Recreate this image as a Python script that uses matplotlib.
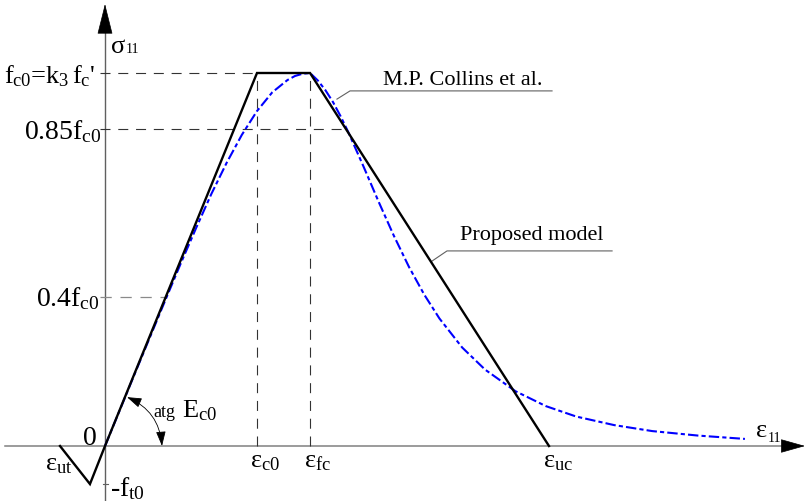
import matplotlib
matplotlib.use("Agg")
import matplotlib.pyplot as plt

# strains normalised by eps_c0, stresses normalised by f_c0
EPS_UT = -0.296
EPS_T0 = -0.099
EPS_C0 = 1.0
EPS_FC = 1.349
EPS_UC = 2.921
F_T0 = -0.102
F_C0 = 1.0
LEVELS = [1.0, 0.85, 0.4]

# proposed model (black polyline)
model_eps = [EPS_UT, EPS_T0, 0.0, EPS_C0, EPS_FC, EPS_UC]
model_sig = [0.0, F_T0, 0.0, F_C0, F_C0, 0.0]

# M.P. Collins et al. curve (blue dashed)
collins_eps = [0.0, 0.2, 0.4, 0.5, 0.6, 0.7, 0.8, 0.9, 1.0, 1.1, 1.2, 1.25, 1.3, 1.349,
               1.4, 1.45, 1.5, 1.55, 1.6, 1.7, 1.8, 1.9, 2.0, 2.1, 2.2, 2.35, 2.5,
               2.7, 2.9, 3.1, 3.35, 3.6, 3.9, 4.21]
collins_sig = [0.0, 0.198, 0.394, 0.491, 0.585, 0.676, 0.759, 0.834, 0.898, 0.948, 0.981,
               0.992, 0.998, 1.0, 0.980, 0.954, 0.922, 0.884, 0.842, 0.750, 0.655,
               0.564, 0.480, 0.406, 0.342, 0.264, 0.205, 0.147, 0.107, 0.079, 0.056,
               0.040, 0.028, 0.019]

plt.rcParams['font.family'] = ['Liberation Serif', 'DejaVu Serif']
plt.rcParams['mathtext.fontset'] = 'custom'
plt.rcParams['mathtext.rm'] = 'Liberation Serif'
plt.rcParams['mathtext.it'] = 'Liberation Serif'
plt.rcParams['mathtext.bf'] = 'Liberation Serif:bold'

fig = plt.figure(figsize=(8.05, 5.02), dpi=100)
ax = fig.add_axes([0, 0, 1, 1])
ax.set_xlim(-0.6908, 4.6053)
ax.set_ylim(-0.14745, 1.19839)
ax.axis('off')

# axes with arrow heads
x0, x1 = -0.658, 4.605
y0, y1 = -0.147, 1.185
ax.plot([x0, x1 - 0.1], [0, 0], color='#808080', lw=1.1, zorder=1)
ax.plot([0, 0], [y0, y1 - 0.05], color='#606060', lw=1.0, zorder=1)
ax.annotate('', xy=(x1, 0), xytext=(x1 - 0.14, 0),
            arrowprops=dict(arrowstyle='-|>,head_length=1.6,head_width=0.45',
                            mutation_scale=10, fc='black', ec='black', lw=0.5,
                            shrinkA=0, shrinkB=0))
ax.annotate('', xy=(0, y1), xytext=(0, y1 - 0.075),
            arrowprops=dict(arrowstyle='-|>,head_length=2.0,head_width=0.5',
                            mutation_scale=10, fc='black', ec='black', lw=0.5,
                            shrinkA=0, shrinkB=0))

# guide lines
dash = (0, (9, 7))
ax.plot([-0.03, EPS_C0], [LEVELS[0]] * 2, color='#333333', lw=0.8, ls=dash)
x85 = EPS_FC + (1 - LEVELS[1]) * (EPS_UC - EPS_FC)
ax.plot([-0.03, x85], [LEVELS[1]] * 2, color='#333333', lw=0.8, ls=dash)
ax.plot([-0.03, LEVELS[2]], [LEVELS[2]] * 2, color='#8a8a8a', lw=0.9, ls=dash)
ax.plot([EPS_C0, EPS_C0], [0, F_C0], color='#333333', lw=0.8, ls=dash)
ax.plot([EPS_FC, EPS_FC], [0, F_C0], color='#333333', lw=0.8, ls=dash)
ax.plot([-0.015, 0.02], [F_T0, F_T0], color='#606060', lw=0.8)

# curves
ax.plot(collins_eps, collins_sig, color='#0000ff', lw=1.5,
        ls=(0, (5, 1.5, 2, 1.5)), zorder=3)
ax.plot(model_eps, model_sig, color='black', lw=1.7, zorder=4,
        solid_joinstyle='miter')

# leader lines
ax.plot([1.526, 1.612, 2.941], [0.930, 0.952, 0.952], color='#606060', lw=0.8)
ax.plot([2.145, 2.25, 3.336], [0.494, 0.523, 0.523], color='#606060', lw=0.8)
ax.text(1.829, 0.971, 'M.P. Collins et al.', fontsize=16, va='baseline')
ax.text(2.336, 0.555, 'Proposed model', fontsize=16, va='baseline')

# angle arc
ax.annotate('', xy=(0.145, 0.131), xytext=(0.375, 0.0),
            arrowprops=dict(arrowstyle='<|-|>,head_length=0.9,head_width=0.3',
                            mutation_scale=10, fc='black', ec='black', lw=0.6,
                            shrinkA=0, shrinkB=0,
                            connectionstyle='arc3,rad=0.3'))
ax.text(0.316, 0.080, 'atg', fontsize=13, va='baseline')
ax.text(0.507, 0.080, r'$E_{c0}$', fontsize=19, va='baseline')

# axis labels
big = 20
ax.text(0.033, 1.056, r'$\sigma$', fontsize=19, va='baseline')
ax.text(0.138, 1.056, '11', fontsize=10, va='baseline')
ax.text(4.276, 0.027, r'$\varepsilon$', fontsize=19, va='baseline')
ax.text(4.362, 0.013, '11', fontsize=10, va='baseline')
ax.text(-0.066, 0.976, r"$f_{c0}$=$k_3\,f_c$'", fontsize=19, va='baseline', ha='right')
ax.text(-0.026, 0.826, r'$0.85f_{c0}$', fontsize=big, va='baseline', ha='right')
ax.text(-0.033, 0.378, r'$0.4f_{c0}$', fontsize=big, va='baseline', ha='right')
ax.text(-0.053, 0.005, '0', fontsize=big, va='baseline', ha='right')
ax.text(0.033, -0.131, r'-$f_{t0}$', fontsize=big, va='baseline')
ax.text(EPS_UT - 0.1, -0.062, r'$\varepsilon_{ut}$', fontsize=19, va='baseline')
ax.text(EPS_C0 - 0.046, -0.056, r'$\varepsilon_{c0}$', fontsize=19, va='baseline')
ax.text(EPS_FC - 0.04, -0.056, r'$\varepsilon_{fc}$', fontsize=19, va='baseline')
ax.text(EPS_UC - 0.039, -0.056, r'$\varepsilon_{uc}$', fontsize=19, va='baseline')

fig.savefig('out.png', dpi=100)
